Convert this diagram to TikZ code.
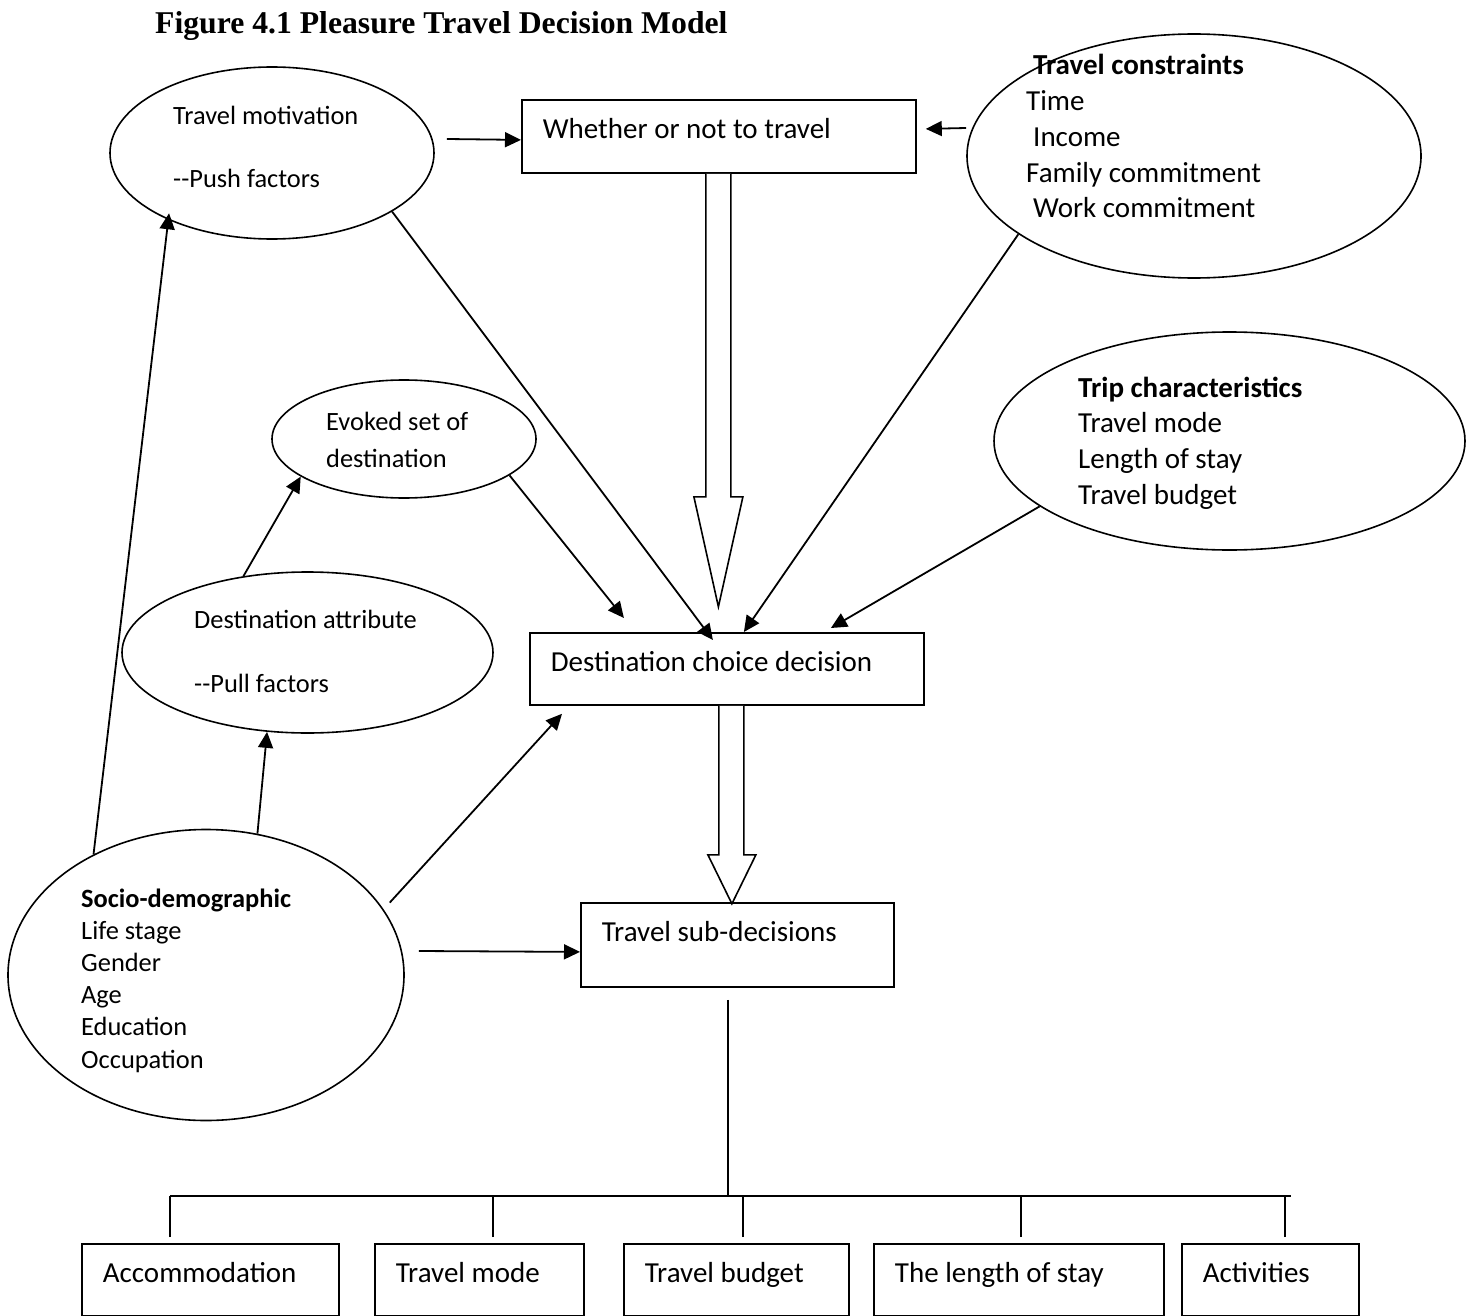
\documentclass[tikz,border=0pt]{standalone}
\usepackage{fontspec}
\setmainfont{Carlito}
\newfontfamily\titlefont{Liberation Serif}
\usetikzlibrary{
	shapes.geometric,
	arrows.meta
}
\newcommand{\ovallines}[1]{\begin{tabular}[t]{@{}l@{}}#1\end{tabular}}
\tikzset{
	oval/.style={draw, ellipse, line width=1.6pt, inner sep=0pt},
	box/.style={draw, line width=1.8pt, anchor=north west, align=flush left,
		inner xsep=21pt, inner ysep=14pt, text height=25pt, text depth=19pt,
		font=\fontsize{29}{35.7}\selectfont},
	ovaltext/.style={anchor=base west, inner sep=0pt},
	link/.style={line width=1.8pt, -{Triangle[length=16pt,width=15pt]}},
	plain/.style={line width=1.6pt},
	hollow/.style={draw, line width=1.6pt, fill=white}
}

\begin{document}
\begin{tikzpicture}[x=1pt, y=1pt]
	\useasboundingbox (0,0) rectangle (1472,-1316);

	\node [anchor=base west, inner sep=0pt, font=\titlefont\bfseries\fontsize{31.7}{38}\selectfont]
		(title) at (155,-34) {Figure 4.1 Pleasure Travel Decision Model};

	\node [oval, minimum width=324pt, minimum height=172pt] (tm)     at (272,-153)   {};
	\node [oval, minimum width=454pt, minimum height=244pt] (tc)     at (1194,-156)  {};
	\node [oval, minimum width=264pt, minimum height=118pt] (evoked) at (404,-439)   {};
	\node [oval, minimum width=471pt, minimum height=218pt] (trip)   at (1229.5,-441) {};
	\node [oval, minimum width=371pt, minimum height=161pt] (dattr)  at (307.5,-652.5) {};
	\node [oval, minimum width=396pt, minimum height=291pt] (socio)  at (206,-975)   {};

	\node [ovaltext, font=\fontsize{26.4}{31.5}\selectfont] (tm-txt) at (173,-125)
		{\ovallines{Travel motivation\\ \\-{}-Push factors}};
	\node [ovaltext, font=\fontsize{29}{35.7}\selectfont] (tc-txt) at (1026,-75)
		{\ovallines{\hspace*{7pt}\textbf{Travel constraints}\\Time\\\hspace*{7pt}Income\\Family commitment\\\hspace*{7pt}Work commitment}};
	\node [ovaltext, font=\fontsize{26.4}{37}\selectfont] (evoked-txt) at (326,-430)
		{\ovallines{Evoked set of\\destination}};
	\node [ovaltext, font=\fontsize{29}{35.7}\selectfont] (trip-txt) at (1078,-397)
		{\ovallines{\textbf{Trip characteristics}\\Travel mode\\Length of stay\\Travel budget}};
	\node [ovaltext, font=\fontsize{26.4}{32}\selectfont] (dattr-txt) at (194,-628)
		{\ovallines{Destination attribute\\ \\-{}-Pull factors}};
	\node [ovaltext, font=\fontsize{26.4}{32.2}\selectfont] (socio-txt) at (81,-907)
		{\ovallines{\textbf{Socio-demographic}\\Life stage\\Gender\\Age\\Education\\Occupation}};

	\node [box, text width=352pt, text depth=20pt] (whether) at (521,-99)  {Whether or not to travel};
	\node [box, text width=352pt]                  (dcd)     at (529,-632) {Destination choice decision};
	\node [box, text width=271pt, text depth=31pt] (tsd)     at (580,-902) {Travel sub-decisions};

	\node [box, text width=215pt] (accom)  at (81,-1243)   {Accommodation};
	\node [box, text width=167pt] (mode)   at (374,-1243)  {Travel mode};
	\node [box, text width=183pt] (budget) at (623,-1243)  {Travel budget};
	\node [box, text width=248pt] (length) at (873,-1243)  {The length of stay};
	\node [box, text width=135pt] (activ)  at (1181,-1243) {Activities};

	\draw [hollow] ([xshift=-13pt]whether.south) -- ++(0,-323) -- ++(-12,0) -- ++(24.5,-110)
		-- ++(24.5,110) -- ++(-12,0) -- ++(0,323);
	\draw [hollow] ([xshift=-8pt]dcd.south) -- ++(0,-149) -- ++(-11,0) -- ++(24,-49)
		-- ++(24,49) -- ++(-12,0) -- ++(0,149);

	\draw [link] ([shift={(12,14)}]tm.east) -- ([yshift=-3.5pt]whether.west);
	\draw [link] ([yshift=28pt]tc.west) -- ([shift={(9,7.5)}]whether.east);
	\draw [link] (socio.133) -- ([shift={(7.5,3.5)}]tm.210);
	\draw [link] (socio.70) -- (dattr.243);
	\draw [link] (dattr.130) -- (evoked.200);
	\draw [link] (evoked.341) -- ([shift={(-103,14)}]dcd.north);
	\draw [link] (tm.334) -- ([shift={(-14,-8)}]dcd.north);
	\draw [link] (tc.204) -- ([xshift=17pt]dcd.north);
	\draw [link] (trip.199) -- ([shift={(104,4)}]dcd.north);
	\draw [link] ([shift={(9.5,2)}]socio.22) -- ([shift={(33,-8)}]dcd.south west);
	\draw [link] ([shift={(14,24)}]socio.east) -- ([yshift=-7pt]tsd.west);

	\draw [plain] ([shift={(-9.5,-12)}]tsd.south) -- ([shift={(-9.5,-208)}]tsd.south);
	\draw [plain] ([shift={(-40.5,47)}]accom.north) -- ([shift={(20.5,47)}]activ.north);
	\foreach \boxname/\dx in {accom/-40.5, mode/13.5, budget/6.5, length/2, activ/14.5}
		\draw [plain] ([shift={(\dx,6)}]\boxname.north) -- ([shift={(\dx,47)}]\boxname.north);
\end{tikzpicture}
\end{document}
